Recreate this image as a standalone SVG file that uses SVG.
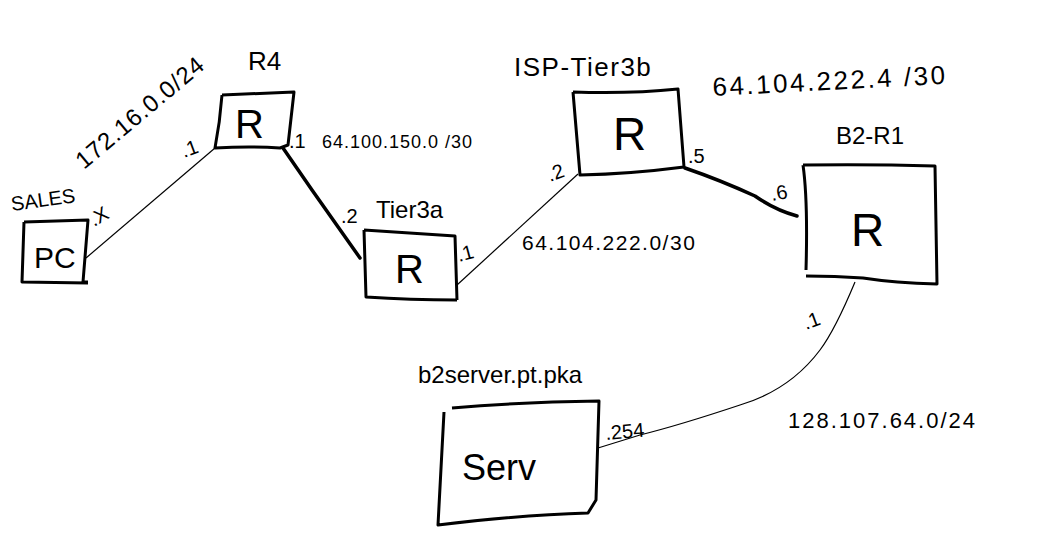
<svg xmlns="http://www.w3.org/2000/svg" width="1039" height="560" viewBox="0 0 1039 560">
<style>
.box{fill:none;stroke:#000;stroke-width:3;stroke-linejoin:round}
.thick{fill:none;stroke:#000;stroke-width:3.5;stroke-linecap:round}
.thin{fill:none;stroke:#000;stroke-width:1.2}
text{font-family:"Liberation Sans",Arial,sans-serif;fill:#000}
.sm{font-size:20px}
</style>
<rect width="1039" height="560" fill="#fff"/>
<g id="connectors">
<path class="thin" d="M86,258 L215,148"/>
<path class="thick" d="M283,148 L312,190 L360,258"/>
<path class="thin" d="M457,285 L578,174"/>
<path class="thick" d="M685,168 Q720,180 755,196 Q775,210 797,216"/>
<path class="thin" d="M855,282 Q835,330 820,350 Q790,390 740,405 Q680,425 640,435 L598,448"/>
</g>
<g id="pc">
<path class="box" d="M24,222 L88,220 L83,282 L88,282 M24,222 L22,282 L88,283"/>
<text x="34" y="268" style="font-size:30px">PC</text>
<text class="sm" x="12" y="211" transform="rotate(-8 12 211)">SALES</text>
<text class="sm" x="94" y="227" transform="rotate(-30 94 227)">.X</text>
</g>
<g id="r4">
<path class="box" d="M222,95 L294,92 L288,145 L280,148 Q250,146 215,148 Q220,122 222,95"/>
<text x="235" y="138" style="font-size:40px">R</text>
<text x="248" y="70" style="font-size:26px">R4</text>
<text x="84" y="170" transform="rotate(-40 84 170)" style="font-size:24px;letter-spacing:1px">172.16.0.0/24</text>
<text class="sm" x="184" y="158" transform="rotate(-20 184 158)">.1</text>
</g>
<g id="tier3a">
<path class="box" d="M364,230 L455,236 L457,300 M364,230 L366,297 Q410,300 457,300"/>
<text x="395" y="283" style="font-size:40px">R</text>
<text class="sm" x="341" y="223">.2</text>
<text x="376" y="218" style="font-size:24px">Tier3a</text>
<text class="sm" x="459" y="262" transform="rotate(-15 459 262)">.1</text>
<text class="sm" x="289" y="148">.1</text>
<text x="322" y="148" style="font-size:18px;letter-spacing:1px">64.100.150.0 /30</text>
</g>
<g id="isp">
<path class="box" d="M573,92 Q630,94 678,89 L684,167 Q630,174 580,175 L573,92"/>
<text x="613" y="150" style="font-size:46px">R</text>
<text x="514" y="76" style="font-size:26px;letter-spacing:1.5px">ISP-Tier3b</text>
<text class="sm" x="550" y="182" transform="rotate(-20 550 182)">.2</text>
<text x="522" y="250" style="font-size:21px;letter-spacing:1.5px">64.104.222.0/30</text>
<text class="sm" x="688" y="163">.5</text>
</g>
<g id="b2r1">
<path class="box" d="M803,165 Q870,164 935,166 L937,284 Q895,283 863,278 Q835,276 806,276 M803,165 Q808,200 806,270"/>
<text x="851" y="246" style="font-size:46px">R</text>
<text x="836" y="144" style="font-size:24px">B2-R1</text>
<text x="713" y="96" transform="rotate(-3 713 96)" style="font-size:26px;letter-spacing:2.5px">64.104.222.4 /30</text>
<text class="sm" x="772" y="201" transform="rotate(-10 772 201)">.6</text>
<text class="sm" x="806" y="330" transform="rotate(-20 806 330)">.1</text>
<text x="788" y="428" style="font-size:22px;letter-spacing:2px">128.107.64.0/24</text>
</g>
<g id="serv">
<path class="box" d="M452,408 Q520,402 599,401 L596,500 L588,513 Q520,515 438,525 L444,412"/>
<text x="462" y="480" style="font-size:36px">Serv</text>
<text x="418" y="383" style="font-size:24px">b2server.pt.pka</text>
<text class="sm" x="606" y="440" transform="rotate(-5 606 440)">.254</text>
</g>
</svg>
